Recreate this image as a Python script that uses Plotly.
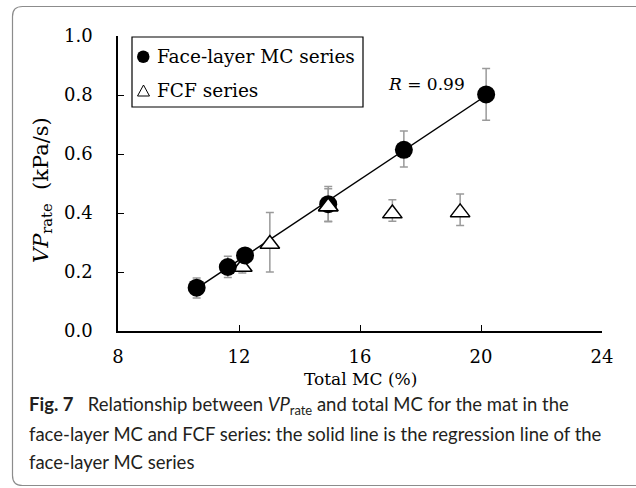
import numpy as np
import plotly.graph_objects as go

# ---- data ----
face_x = [10.6, 11.63, 12.2, 14.95, 17.45, 20.17]
face_y = [0.147, 0.217, 0.256, 0.430, 0.614, 0.802]
face_err_plus = [0.033, 0.036, 0.015, 0.060, 0.064, 0.088]
face_err_minus = [0.035, 0.036, 0.015, 0.060, 0.058, 0.088]

fcf_x = [12.11, 13.02, 14.95, 17.07, 19.31]
fcf_y = [0.217, 0.295, 0.422, 0.398, 0.402]
fcf_err_plus = [0.02, 0.107, 0.06, 0.047, 0.062]
fcf_err_minus = [0.02, 0.095, 0.05, 0.026, 0.044]

x_ticks = [8, 12, 16, 20, 24]
y_ticks = [0.0, 0.2, 0.4, 0.6, 0.8, 1.0]

# ---- layout geometry (pixels) ----
W, H = 636, 488
L, R, T, B = 118, 602, 36, 331
SERIF = "DejaVu Serif"
SANS = "Lato"


def px(x):
    return (x - L) / (R - L)


def py(y):
    return (B - y) / (B - T)


def P(xp, yp):
    return f"{px(xp)},{py(yp)}"


# regression line of face-layer series
coef = np.polyfit(face_x, face_y, 1)
reg_x = np.array([min(face_x), max(face_x)])
reg_y = np.polyval(coef, reg_x)

tri = dict(symbol="triangle-up", size=17, color="white",
           line=dict(color="black", width=1.5))

fig = go.Figure()
fig.add_trace(go.Scatter(x=reg_x, y=reg_y, mode="lines",
                         line=dict(color="black", width=1.5), showlegend=False))
fig.add_trace(go.Scatter(
    x=fcf_x, y=fcf_y, mode="markers", marker=tri,
    error_y=dict(type="data", array=fcf_err_plus, arrayminus=fcf_err_minus,
                 color="#9a9a9a", thickness=1.5, width=4),
    showlegend=False))
fig.add_trace(go.Scatter(
    x=face_x, y=face_y, mode="markers",
    marker=dict(symbol="circle", size=18, color="black"),
    error_y=dict(type="data", array=face_err_plus, arrayminus=face_err_minus,
                 color="#9a9a9a", thickness=1.5, width=4),
    showlegend=False))
# FCF triangle drawn over the circle where they overlap
fig.add_trace(go.Scatter(x=[fcf_x[2]], y=[fcf_y[2]], mode="markers",
                         marker=tri, showlegend=False))

shapes = []
r = 10
path = (f"M {P(12.5+r, 6.5)} L {P(640, 6.5)} L {P(640, 485.5)} L {P(12.5+r, 485.5)} "
        f"Q {P(12.5, 485.5)} {P(12.5, 485.5-r)} L {P(12.5, 6.5+r)} Q {P(12.5, 6.5)} {P(12.5+r, 6.5)} Z")
shapes.append(dict(type="path", xref="paper", yref="paper", path=path,
                   line=dict(color="#8c8c8c", width=1.2)))
# legend box
shapes.append(dict(type="rect", xref="paper", yref="paper",
                   x0=px(132), x1=px(363), y0=py(37), y1=py(107),
                   line=dict(color="black", width=1.2), fillcolor="white"))
shapes.append(dict(type="circle", xref="paper", yref="paper",
                   x0=px(137), x1=px(149.5), y0=py(50.5), y1=py(63),
                   fillcolor="black", line=dict(color="black", width=0)))
shapes.append(dict(type="path", xref="paper", yref="paper",
                   path=f"M {P(137.5, 96)} L {P(149.5, 96)} L {P(143.5, 85)} Z",
                   line=dict(color="black", width=1), fillcolor="white"))

ann = []
ann.append(dict(text="Face-layer MC series", x=px(155), y=py(56.5), xref="paper", yref="paper",
                xanchor="left", yanchor="middle", showarrow=False,
                font=dict(family=SERIF, size=18.5, color="black")))
ann.append(dict(text="FCF series", x=px(155), y=py(90.5), xref="paper", yref="paper",
                xanchor="left", yanchor="middle", showarrow=False,
                font=dict(family=SERIF, size=18.5, color="black")))
ann.append(dict(text="<i>R</i> = 0.99", x=px(386), y=py(84), xref="paper", yref="paper",
                xanchor="left", yanchor="middle", showarrow=False,
                font=dict(family=SERIF, size=17, color="black")))
ann.append(dict(text="Total MC (%)", x=px(360), y=py(379), xref="paper", yref="paper",
                xanchor="center", yanchor="middle", showarrow=False,
                font=dict(family=SERIF, size=17, color="black")))
ann.append(dict(text="<i>VP</i><sub>rate</sub>  (kPa/s)", x=px(42), y=py(190), xref="paper", yref="paper",
                xanchor="center", yanchor="middle", showarrow=False, textangle=-90,
                font=dict(family=SERIF, size=21, color="black")))
caption = [
    "<b>Fig. 7</b>   Relationship between <i>VP</i><sub>rate</sub> and total MC for the mat in the",
    "face-layer MC and FCF series: the solid line is the regression line of the",
    "face-layer MC series",
]
for i, line in enumerate(caption):
    ann.append(dict(text=line, x=px(27), y=py(405 + 28.5 * i), xref="paper", yref="paper",
                    xanchor="left", yanchor="middle", showarrow=False,
                    font=dict(family=SANS, size=18.5, color="#231f20")))

fig.update_layout(
    width=W, height=H,
    margin=dict(l=L, r=W - R, t=T, b=H - B, pad=0),
    paper_bgcolor="white", plot_bgcolor="white",
    shapes=shapes, annotations=ann,
    xaxis=dict(range=[8, 24], tickvals=x_ticks, ticktext=[str(v) for v in x_ticks],
               ticks="inside", ticklen=6, tickcolor="black", tickwidth=1.2,
               showline=True, linecolor="black", linewidth=1.5, showgrid=False, zeroline=False,
               tickfont=dict(family=SERIF, size=18, color="black"), ticklabelstandoff=9),
    yaxis=dict(range=[0, 1.0], tickvals=y_ticks, ticktext=[f"{v:.1f}" for v in y_ticks],
               ticks="inside", ticklen=6, tickcolor="black", tickwidth=1.2,
               showline=True, linecolor="black", linewidth=1.5, showgrid=False, zeroline=False,
               tickfont=dict(family=SERIF, size=18, color="black"), ticklabelstandoff=20),
)

fig.write_html("out.html")
